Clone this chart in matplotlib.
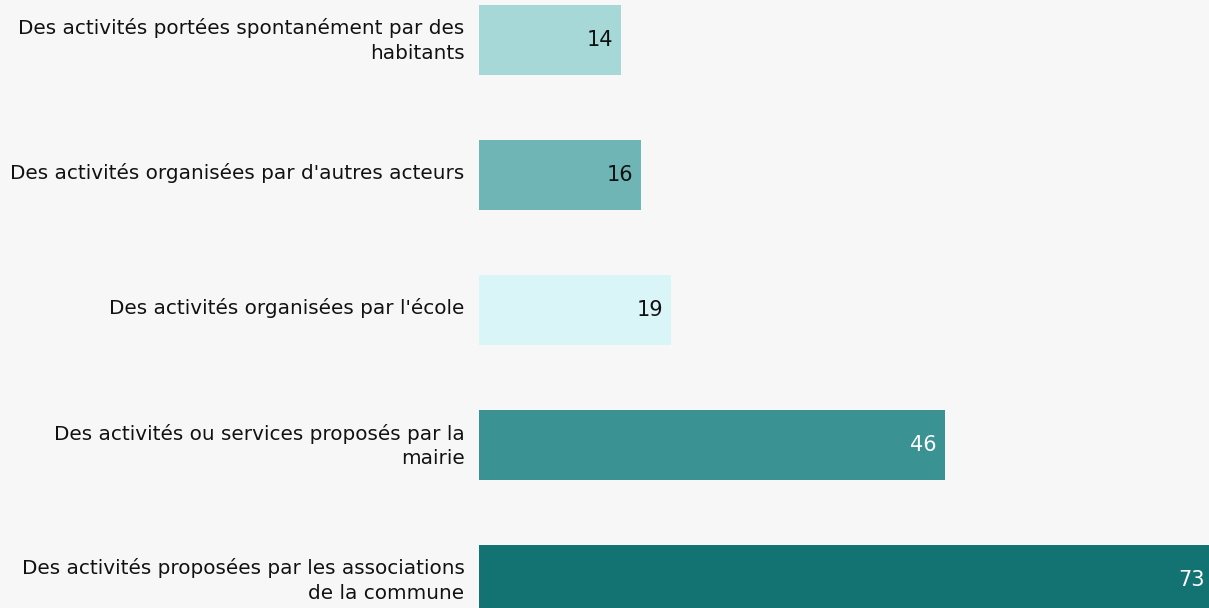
import matplotlib
matplotlib.use("Agg")
import matplotlib.pyplot as plt
import matplotlib.transforms as mtransforms

categories = [
    "Des activités portées spontanément par des\nhabitants",
    "Des activités organisées par d'autres acteurs",
    "Des activités organisées par l'école",
    "Des activités ou services proposés par la\nmairie",
    "Des activités proposées par les associations\nde la commune",
]
values = [14, 16, 19, 46, 73]
colors = ["#a6d8d8", "#6fb5b5", "#daf5f7", "#3a9292", "#137272"]
text_colors = ["#111111", "#111111", "#111111", "#ffffff", "#ffffff"]

W, H = 1209, 608
fig = plt.figure(figsize=(W / 100, H / 100), dpi=100)
bg = "#f7f7f7"
fig.patch.set_facecolor(bg)
ax = fig.add_axes([479 / W, 0, 1 - 479 / W, 1])
ax.set_facecolor(bg)

ypos = list(range(len(categories)))
ax.barh(ypos, values, height=0.52, color=colors, zorder=2)
xmax = (W - 479) / 10.12
ax.set_xlim(0, xmax)
ax.set_ylim(4 + 28 / 135, -40 / 135)

for y, v, tc in zip(ypos, values, text_colors):
    x_anchor = min(v, xmax)
    off = -5.5 if v <= xmax else -3
    ax.annotate(str(v), xy=(x_anchor, y), xytext=(off, 0), textcoords="offset points",
                ha="right", va="center", color=tc, fontsize=15,
                family="DejaVu Sans", annotation_clip=False)

ax.set_yticks(ypos)
ax.set_yticklabels(categories, fontsize=14.4, family="DejaVu Sans",
                   color="#111111", ha="right", linespacing=1.35)
ax.tick_params(axis="y", length=0, pad=10.5)
shift = mtransforms.ScaledTranslation(0, 4 / 100, fig.dpi_scale_trans)
for lbl in ax.get_yticklabels():
    lbl.set_transform(lbl.get_transform() + shift)
ax.set_xticks([])
for s in ax.spines.values():
    s.set_visible(False)

fig.savefig("out.png", dpi=100, facecolor=bg)
